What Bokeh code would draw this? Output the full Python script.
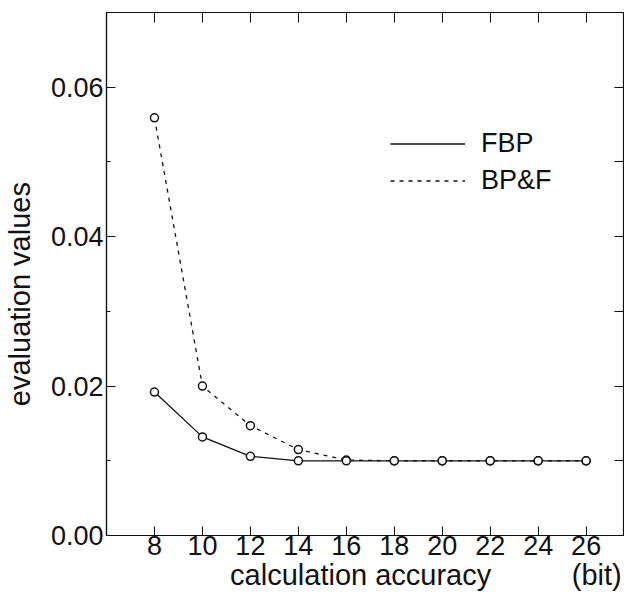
from bokeh.plotting import figure
from bokeh.models import (ColumnDataSource, Range1d, LinearAxis, FixedTicker,
                          Legend, LegendItem, CustomJSTickFormatter)
from bokeh.embed import file_html
from bokeh.resources import INLINE

# data
bits = [8, 10, 12, 14, 16, 18, 20, 22, 24, 26]
fbp = [0.0192, 0.0132, 0.0106, 0.0100, 0.0100, 0.0100, 0.0100, 0.0100, 0.0100, 0.0100]
bpf = [0.0559, 0.0200, 0.0147, 0.0115, 0.0101, 0.0100, 0.0100, 0.0100, 0.0100, 0.0100]
x_ticks = [8, 10, 12, 14, 16, 18, 20, 22, 24, 26]
y_major = [0.00, 0.02, 0.04, 0.06]
y_minor = [0.01, 0.03, 0.05]
y_all = [0.01, 0.02, 0.03, 0.04, 0.05, 0.06]
x_title = "calculation accuracy"
x_unit = "(bit)"
y_title = "evaluation values"

FONT = "Liberation Sans"
INK = "#111111"
NB = "\u00a0"

src = ColumnDataSource(dict(x=bits, fbp=fbp, bpf=bpf))

# the unit note sits on the same line as the x title; non-breaking spaces place it
x_label = NB * 15 + x_title + NB * 10 + x_unit
y_label = y_title + NB * 5

p = figure(width=624, height=593, output_backend="svg", toolbar_location=None,
           x_range=Range1d(6, 27.6), y_range=Range1d(0, 0.07),
           min_border_left=98, min_border_top=12, min_border_right=0, min_border_bottom=0,
           x_axis_label=x_label, y_axis_label=y_label)
p.grid.visible = False
p.outline_line_color = INK
p.outline_line_width = 1.2
p.background_fill_color = "white"
p.border_fill_color = "white"

for ax in (p.xaxis[0], p.yaxis[0]):
    ax.axis_line_color = INK
    ax.axis_line_width = 1.2
    ax.major_tick_line_color = INK
    ax.minor_tick_line_color = INK
    ax.major_tick_in = 9
    ax.major_tick_out = 0
    ax.minor_tick_in = 0
    ax.minor_tick_out = 0
    ax.major_label_text_font = FONT
    ax.major_label_text_font_size = "27px"
    ax.major_label_text_color = INK
    ax.axis_label_text_font = FONT
    ax.axis_label_text_font_size = "29px"
    ax.axis_label_text_font_style = "normal"
    ax.axis_label_text_color = INK

p.xaxis[0].ticker = FixedTicker(ticks=x_ticks)
p.xaxis[0].major_label_standoff = 0
p.xaxis[0].axis_label_standoff = 1
p.yaxis[0].ticker = FixedTicker(ticks=y_major, minor_ticks=y_minor)
p.yaxis[0].minor_tick_in = 4
p.yaxis[0].major_label_standoff = 3
p.yaxis[0].axis_label_standoff = 12
p.yaxis[0].formatter = CustomJSTickFormatter(code="return tick.toFixed(2);")

top = LinearAxis(ticker=FixedTicker(ticks=x_ticks), major_tick_in=10, major_tick_out=0,
                 minor_tick_in=0, minor_tick_out=0, major_label_text_font_size="0px",
                 major_label_standoff=0,
                 axis_line_color=INK, major_tick_line_color=INK)
right = LinearAxis(ticker=FixedTicker(ticks=y_all), major_tick_in=10, major_tick_out=0,
                   minor_tick_in=0, minor_tick_out=0, major_label_text_font_size="0px",
                   major_label_standoff=0,
                   axis_line_color=INK, major_tick_line_color=INK)
p.add_layout(top, "above")
p.add_layout(right, "right")

l1 = p.line("x", "fbp", source=src, line_color=INK, line_width=1.3)
l2 = p.line("x", "bpf", source=src, line_color=INK, line_width=1.3, line_dash="4 5")
p.scatter("x", "bpf", source=src, marker="circle", size=8, fill_color="white",
          line_color=INK, line_width=1.5)
p.scatter("x", "fbp", source=src, marker="circle", size=8, fill_color="white",
          line_color=INK, line_width=1.5)

legend = Legend(items=[LegendItem(label="FBP", renderers=[l1]),
                       LegendItem(label="BP&F", renderers=[l2])],
                location=(284, 339), border_line_color=None, background_fill_alpha=0,
                label_text_font=FONT, label_text_font_size="27px", label_text_color=INK,
                glyph_width=75, glyph_height=31, label_height=31, label_standoff=16,
                spacing=6, padding=0, margin=0)
p.add_layout(legend)

open("out.html", "w").write(file_html(p, INLINE))
